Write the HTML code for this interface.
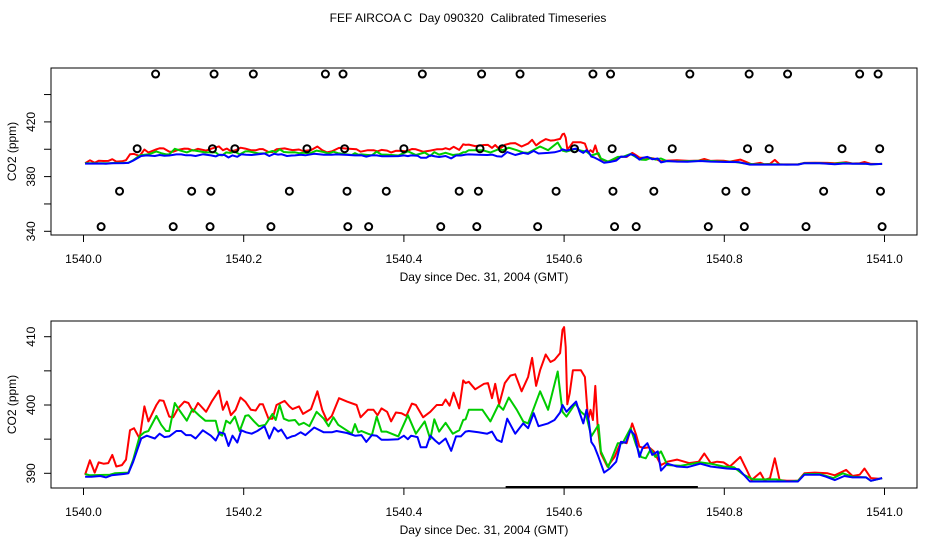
<!DOCTYPE html>
<html><head><meta charset="utf-8"><style>
html,body{margin:0;padding:0;background:#fff;}
svg{display:block;font-family:"Liberation Sans",sans-serif;}
</style></head><body>
<svg id="chart" width="936" height="540" viewBox="0 0 936 540" xmlns="http://www.w3.org/2000/svg">
<rect width="936" height="540" fill="#fff"/>
<text x="468" y="22" text-anchor="middle" font-size="12" style="white-space:pre" xml:space="preserve">FEF AIRCOA C  Day 090320  Calibrated Timeseries</text>
</svg>
<script>
// ---- data ----
const redDays=[0.002,0.008,0.014,0.019,0.025,0.031,0.036,0.041,0.048,0.053,0.058,0.063,0.070,0.076,0.081,0.091,0.095,0.100,0.107,0.112,0.118,0.126,0.131,0.137,0.143,0.153,0.160,0.169,0.174,0.179,0.184,0.190,0.196,0.202,0.209,0.215,0.220,0.224,0.231,0.236,0.241,0.251,0.257,0.261,0.269,0.274,0.284,0.292,0.298,0.304,0.310,0.319,0.329,0.341,0.346,0.355,0.362,0.367,0.372,0.379,0.384,0.390,0.397,0.403,0.410,0.415,0.424,0.433,0.441,0.448,0.452,0.457,0.462,0.469,0.474,0.477,
0.481,0.489,0.500,0.505,0.510,0.514,0.519,0.526,0.533,0.539,0.547,0.555,0.560,0.565,0.570,0.577,0.583,0.588,0.595,0.598,0.600,0.602,0.604,0.607,0.611,0.621,0.626,0.630,0.633,0.636,0.639,0.642,0.646,0.654,0.663,0.671,0.678,0.685,0.690,0.694,0.700,0.706,0.712,0.721,0.729,0.741,0.756,0.768,0.775,0.783,0.791,0.799,0.807,0.820,0.828,0.834,0.845,0.850,0.857,0.863,0.869,0.878,0.892,0.900,0.913,0.929,0.938,0.952,0.960,0.969,0.975,0.983,0.993,0.997];
const redVals=[389.8,391.9,390.1,391.6,391.4,391.5,392.7,391.0,391.2,392.0,396.3,396.6,395.1,399.8,397.6,400.0,400.7,400.6,398.3,398.2,399.5,400.5,400.3,399.0,400.3,399.0,400.5,402.1,399.3,400.5,398.5,399.3,401.1,400.5,399.3,399.2,400.1,400.1,398.0,398.0,400.0,400.6,399.8,399.4,399.8,398.7,399.4,402.0,399.3,397.7,398.4,401.0,400.5,400.0,398.2,399.3,399.3,398.5,399.5,399.0,397.6,398.9,398.8,398.4,400.2,400.0,398.2,399.0,400.0,400.0,400.8,399.9,401.8,399.5,403.6,403.2,
403.4,402.3,403.1,403.2,401.0,403.1,400.1,403.2,404.3,404.5,402.0,404.1,406.9,402.8,405.1,407.4,406.3,406.6,407.6,411.0,411.4,408.5,400.1,401.7,405.1,405.1,404.1,397.8,399.3,397.8,402.8,396.8,392.9,391.0,392.4,394.6,394.4,397.3,395.6,393.9,393.7,393.8,393.2,391.2,391.7,392.0,391.5,391.7,392.9,391.5,391.7,391.6,391.0,392.4,390.5,389.0,390.1,389.0,389.3,392.2,389.0,388.9,388.9,390.0,390.1,390.0,389.7,390.5,389.6,389.8,390.7,389.3,389.2,389.3];
const greenDays=[0.002,0.008,0.033,0.039,0.056,0.062,0.070,0.076,0.081,0.091,0.097,0.103,0.107,0.114,0.120,0.129,0.136,0.145,0.152,0.165,0.169,0.173,0.178,0.183,0.189,0.195,0.202,0.206,0.213,0.219,0.227,0.236,0.240,0.245,0.250,0.256,0.264,0.269,0.275,0.282,0.291,0.300,0.306,0.312,0.318,0.335,0.339,0.343,0.347,0.355,0.360,0.366,0.372,0.378,0.393,0.405,0.415,0.426,0.433,0.438,0.444,0.452,0.461,0.469,0.474,0.477,
0.481,0.498,0.508,0.518,0.524,0.531,0.541,0.549,0.555,0.570,0.580,0.592,0.598,0.603,0.614,0.621,0.628,0.634,0.643,0.646,0.655,0.667,0.673,0.683,0.690,0.696,0.702,0.708,0.714,0.721,0.729,0.745,0.770,0.783,0.799,0.812,0.824,0.836,0.865,0.878,0.892,0.900,0.919,0.936,0.948,0.960,0.977,0.983,0.997];
const greenVals=[389.9,389.7,389.8,390.0,390.1,392.0,395.4,396.0,396.2,398.4,397.1,396.2,396.2,400.3,399.2,397.7,399.4,398.4,397.7,397.7,395.8,395.5,397.7,397.3,398.3,396.2,398.4,398.5,397.6,396.9,397.1,398.7,397.8,400.0,398.0,397.7,397.8,397.1,397.4,396.9,399.0,398.0,396.9,398.2,397.1,395.8,397.2,396.0,396.2,395.8,395.6,398.3,396.1,396.1,395.4,398.5,395.8,397.6,395.0,397.9,396.1,397.4,395.8,396.3,397.8,397.9,
399.3,399.3,397.6,400.0,399.3,401.1,399.3,397.6,397.3,402.0,399.3,404.9,399.0,398.3,400.2,399.0,398.3,395.4,397.1,393.2,390.9,394.4,394.4,396.6,394.1,392.4,392.2,393.5,392.4,393.2,391.2,391.1,391.6,391.4,391.0,390.9,389.8,389.1,389.1,388.8,388.9,389.9,389.9,389.3,390.0,389.5,389.4,388.9,389.3];
const blueDays=[0.002,0.010,0.021,0.028,0.035,0.050,0.056,0.062,0.070,0.072,0.079,0.089,0.095,0.101,0.107,0.116,0.122,0.128,0.134,0.140,0.149,0.159,0.165,0.170,0.176,0.181,0.186,0.192,0.197,0.203,0.210,0.217,0.226,0.232,0.238,0.243,0.247,0.254,0.260,0.264,0.271,0.277,0.288,0.300,0.310,0.316,0.329,0.339,0.347,0.353,0.360,0.366,0.372,0.380,0.393,0.400,0.405,0.409,0.417,0.421,0.428,0.433,0.439,0.444,0.452,0.459,0.465,0.471,0.477,
0.481,0.493,0.504,0.510,0.516,0.522,0.529,0.539,0.549,0.555,0.562,0.568,0.580,0.588,0.595,0.598,0.603,0.609,0.615,0.619,0.624,0.628,0.631,0.634,0.638,0.643,0.650,0.657,0.665,0.671,0.677,0.683,0.688,0.694,0.698,0.704,0.710,0.717,0.721,0.729,0.741,0.754,0.770,0.783,0.803,0.818,0.832,0.867,0.878,0.892,0.900,0.919,0.927,0.938,0.950,0.960,0.977,0.983,0.997];
const blueVals=[389.5,389.5,389.6,389.4,389.7,389.9,390.0,391.7,394.4,395.1,395.5,395.1,395.8,395.3,395.4,396.2,396.2,395.6,395.6,395.1,396.3,395.5,394.8,396.0,395.8,394.0,395.5,394.5,396.3,396.0,395.8,396.2,396.9,395.1,396.7,396.1,396.4,395.1,395.4,395.5,396.0,395.6,396.7,396.0,396.0,396.2,395.9,395.5,395.6,394.6,395.6,395.5,394.9,394.9,395.0,395.5,395.0,395.5,395.3,393.8,393.8,395.5,394.8,394.3,395.1,393.3,395.4,395.4,396.1,
396.2,396.0,395.8,396.1,394.9,394.6,398.0,395.8,397.3,396.6,398.8,396.9,397.3,397.8,398.9,400.0,399.0,399.8,400.5,399.0,397.3,399.3,397.6,394.6,393.9,392.4,390.1,390.7,391.7,394.6,394.5,396.3,395.6,392.4,393.7,394.4,392.7,393.2,390.4,391.4,391.0,390.9,391.4,391.0,390.7,390.6,388.8,388.8,388.8,388.8,389.8,389.8,389.5,389.0,389.6,389.4,389.4,388.9,389.3];
const circleDaysA=[0.090,0.163,0.212,0.302,0.324,0.423,0.497,0.545,0.636,0.658,0.757,0.831,0.879,0.969,0.992];
const circleDaysB=[0.067,0.161,0.189,0.279,0.326,0.400,0.495,0.523,0.613,0.660,0.735,0.829,0.856,0.947,0.994];
const circleDaysC=[0.045,0.135,0.159,0.257,0.329,0.378,0.469,0.493,0.590,0.661,0.712,0.802,0.827,0.924,0.995];
const circleDaysD=[0.022,0.112,0.158,0.234,0.330,0.356,0.446,0.491,0.567,0.663,0.690,0.780,0.825,0.902,0.997];
const circleLevels=[455,400.4,369.3,343.4];
const xTicks=[0,0.2,0.4,0.6,0.8,1.0];
const xTickLabels=["1540.0","1540.2","1540.4","1540.6","1540.8","1541.0"];
const topYTicks=[340,360,380,400,420,440];
const topYLabels=["340","","380","","420",""];
const botYTicks=[390,395,400,405,410];
const botYLabels=["390","","400","","410"];
const flagRange=[0.527,0.767];

const NS="http://www.w3.org/2000/svg";
const svg=document.getElementById('chart');
function mk(tag,attrs,parent){const e=document.createElementNS(NS,tag);for(const k in attrs)e.setAttribute(k,attrs[k]);(parent||svg).appendChild(e);return e;}
const xs=d=>83.5+d*801;

function panel(name,top,bottom,yFn,yTicks,yLabels){
  const g=mk('g',{});
  
  
  const clipId=name+'-clip';
  const cp=mk('clipPath',{id:clipId},g);
  mk('rect',{x:51,y:top,width:866,height:bottom-top},cp);
  const frame=mk('rect',{x:51,y:top,width:866,height:bottom-top,fill:'none',stroke:'#000','stroke-width':1},g);
  
  
  xTicks.forEach((t,i)=>{
    const x=xs(t);
    const tk=mk('line',{x1:x,x2:x,y1:bottom,y2:bottom+7,stroke:'#000'},g);
    
    
    const lb=mk('text',{x:x,y:bottom+28,'text-anchor':'middle','font-size':12},g);
    
    
    lb.textContent=xTickLabels[i];
  });
  const xt=mk('text',{x:484,y:bottom+46,'text-anchor':'middle','font-size':12},g);
  
  
  xt.textContent='Day since Dec. 31, 2004 (GMT)';
  yTicks.forEach((v,i)=>{
    const y=yFn(v);
    const tk=mk('line',{x1:44,x2:51,y1:y,y2:y,stroke:'#000'},g);
    
    
    if(yLabels[i]){
      const lb=mk('text',{x:0,y:0,'text-anchor':'middle','font-size':12,transform:`translate(35,${y}) rotate(-90)`},g);
      
      
      lb.textContent=yLabels[i];
    }
  });
  const yt=mk('text',{x:0,y:0,'text-anchor':'middle','font-size':12,transform:`translate(16,${(top+bottom)/2}) rotate(-90)`},g);
  
  
  yt.textContent='CO2 (ppm)';
  const inner=mk('g',{'clip-path':`url(#${clipId})`},g);
  return inner;
}
function series(parent,name,days,vals,color,yFn){
  const pts=days.map((d,i)=>xs(d).toFixed(1)+','+yFn(vals[i]).toFixed(1)).join(' ');
  const p=mk('polyline',{points:pts,fill:'none',stroke:color,'stroke-width':2,'stroke-linejoin':'round'},parent);
  
  
}
const yTop=v=>231.3-(v-340)*1.3675;
const gt=panel('top-panel',68,235,yTop,topYTicks,topYLabels);
series(gt,'red-series-top',redDays,redVals,'#ff0000',yTop);
series(gt,'green-series-top',greenDays,greenVals,'#00cc00',yTop);
series(gt,'blue-series-top',blueDays,blueVals,'#0000ff',yTop);
[circleDaysA,circleDaysB,circleDaysC,circleDaysD].forEach((arr,k)=>{
  arr.forEach(d=>{
    const c=mk('circle',{cx:xs(d),cy:yTop(circleLevels[k]),r:3.5,fill:'none',stroke:'#000','stroke-width':2},gt);
    
    
  });
});
const yBot=v=>473.3-(v-390)*6.83;
const gb=panel('bottom-panel',321,488,yBot,botYTicks,botYLabels);
series(gb,'red-series',redDays,redVals,'#ff0000',yBot);
series(gb,'green-series',greenDays,greenVals,'#00cc00',yBot);
series(gb,'blue-series',blueDays,blueVals,'#0000ff',yBot);
const fl=mk('line',{x1:xs(flagRange[0]),x2:xs(flagRange[1]),y1:487,y2:487,stroke:'#000','stroke-width':2},svg);


</script>
</body></html>
